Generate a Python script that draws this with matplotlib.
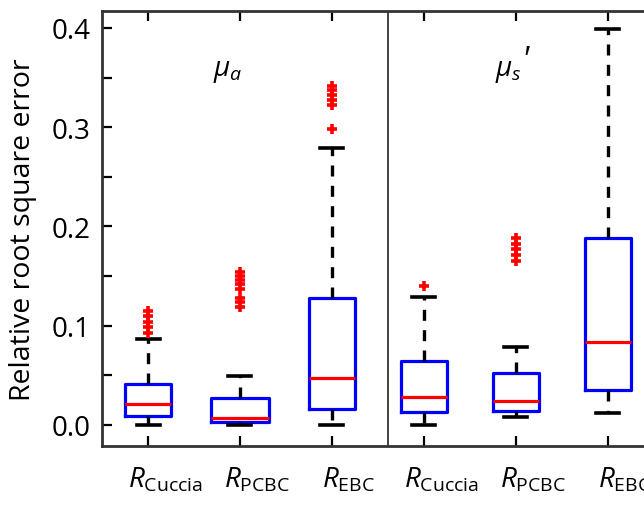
import matplotlib
matplotlib.use("Agg")
import matplotlib.pyplot as plt
from matplotlib.ticker import MultipleLocator, FormatStrFormatter
from matplotlib.transforms import ScaledTranslation

plt.rcParams["font.family"] = ["Open Sans", "DejaVu Sans"]
plt.rcParams["mathtext.fontset"] = "custom"
plt.rcParams["mathtext.rm"] = "Open Sans"
plt.rcParams["mathtext.it"] = "Open Sans:italic"

# ---------------- DATA ----------------
labels = [r"$R_{\mathrm{Cuccia}}$", r"$R_{\mathrm{PCBC}}$", r"$R_{\mathrm{EBC}}$",
          r"$R_{\mathrm{Cuccia}}$", r"$R_{\mathrm{PCBC}}$", r"$R_{\mathrm{EBC}}$"]
q1 = [0.009, 0.003, 0.016, 0.013, 0.014, 0.035]
med = [0.021, 0.007, 0.047, 0.028, 0.024, 0.084]
q3 = [0.041, 0.027, 0.128, 0.064, 0.052, 0.188]
whislo = [0.000, 0.000, 0.000, 0.000, 0.008, 0.012]
whishi = [0.087, 0.049, 0.279, 0.129, 0.079, 0.399]
fliers = [
    [0.093, 0.099, 0.104, 0.110, 0.115],
    [0.119, 0.124, 0.128, 0.137, 0.142, 0.146, 0.150, 0.154],
    [0.298, 0.322, 0.327, 0.332, 0.337, 0.342],
    [0.140],
    [0.165, 0.171, 0.177, 0.182, 0.188],
    [],
]
panel_titles = [r"$\mu_a$", r"$\mu_s$"]

# ---------------- PLOT ----------------
fig = plt.figure(figsize=(6.44, 5.06), dpi=100)
ax = fig.add_axes([0.1584, 0.1166, 0.857, 0.8597])

stats = []
for i in range(len(labels)):
    stats.append({"q1": q1[i], "med": med[i], "q3": q3[i],
                  "whislo": whislo[i], "whishi": whishi[i], "fliers": fliers[i]})

positions = [1, 2, 3, 4, 5, 6]
widths = [0.5, 0.62, 0.5, 0.5, 0.5, 0.5]

ax.bxp(stats, positions=positions, widths=widths, capwidths=0.25,
       boxprops=dict(color="#0000ff", linewidth=2.3),
       medianprops=dict(color="#ff0000", linewidth=2.3),
       whiskerprops=dict(color="black", linewidth=2.4, linestyle=(0, (3.3, 2.8))),
       capprops=dict(color="black", linewidth=2.6),
       flierprops=dict(marker="+", markeredgecolor="#ff0000", markersize=7,
                       markeredgewidth=2.6, linestyle="none"))

# divider between the two panels
ax.axvline(3.61, color="#222222", linewidth=1.2)

# panel titles (prime drawn on its own so it keeps full size)
ax.text(1.707, 0.3527, panel_titles[0], fontsize=20, ha="left", va="baseline")
ax.text(4.77, 0.3527, panel_titles[1], fontsize=20, ha="left", va="baseline")
ax.text(5.06, 0.359, "'", fontsize=24, fontstyle="italic", ha="left", va="baseline")

ax.set_xlim(0.5, 6.5)
ax.set_ylim(-0.0212, 0.4171)
ax.set_xticks(positions)
ax.set_xticklabels(labels, fontsize=20)
ax.yaxis.set_major_locator(MultipleLocator(0.1))
ax.yaxis.set_minor_locator(MultipleLocator(0.05))
ax.yaxis.set_major_formatter(FormatStrFormatter("%.1f"))
ax.tick_params(axis="y", labelsize=20, direction="in", length=7, width=1.6,
               right=True, pad=8)
ax.tick_params(axis="y", which="minor", direction="in", length=7, width=1.6, right=True)
ax.tick_params(axis="x", direction="in", length=7, width=1.6, top=True, pad=14)
for s in ax.spines.values():
    s.set_linewidth(2)
    s.set_color("#333333")

# labels in the original sit a bit right of their ticks
shift = ScaledTranslation(0.17, 0, fig.dpi_scale_trans)
for lab in ax.get_xticklabels():
    lab.set_transform(lab.get_transform() + shift)

ax.set_ylabel("Relative root square error", fontsize=20.5, labelpad=11)

fig.savefig("out.png", dpi=100)
